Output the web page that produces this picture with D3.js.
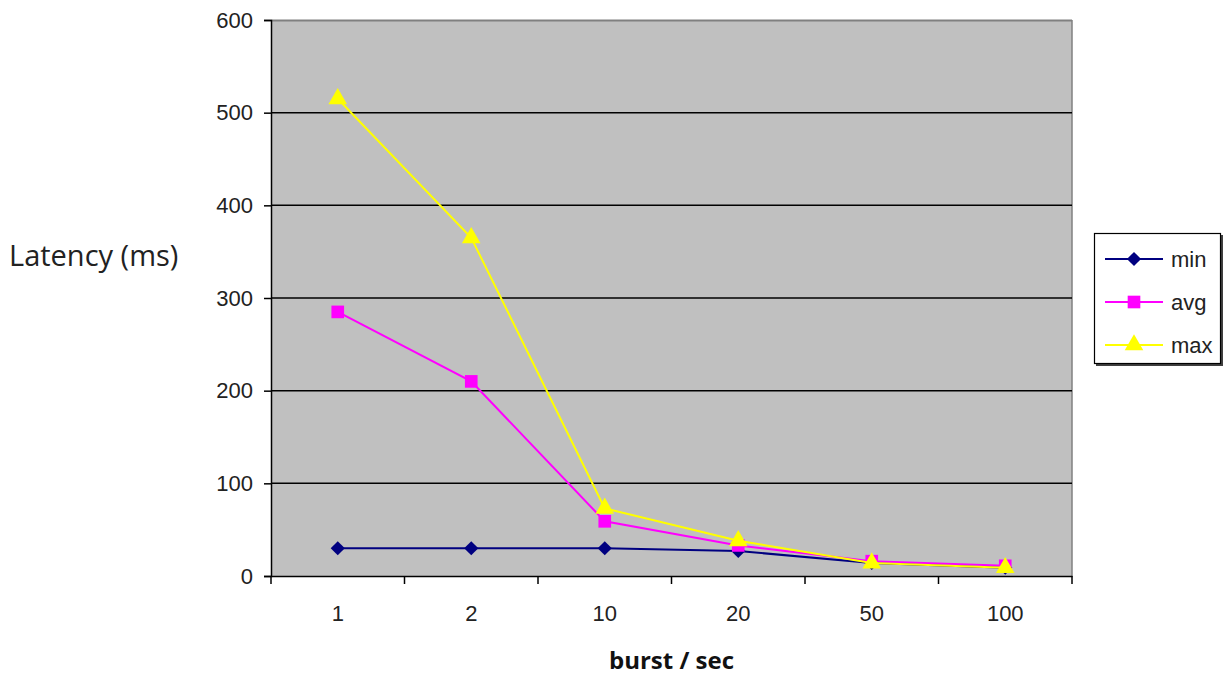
<!DOCTYPE html>
<html>
<head>
<meta charset="utf-8">
<script src="https://cdn.jsdelivr.net/npm/d3@7"></script>
<style>
  body { margin: 0; background: #fff; }
  svg { display: block; }
</style>
</head>
<body>
<div id="chart"></div>
<script>
// chart data
const categories = ['1', '2', '10', '20', '50', '100'];
const minValues = [30, 30, 30, 27, 14, 9];
const avgValues = [285, 210, 59, 33, 16, 11];
const maxValues = [515, 365, 73, 38, 14, 9];
const seriesNames = ['min', 'avg', 'max'];
const yTicks = [0, 100, 200, 300, 400, 500, 600];

const width = 1225, height = 675;
const plot = { left: 271, right: 1072, top: 20, bottom: 576 };
const FONT = '"Liberation Sans", Arial, sans-serif';

const svg = d3.select('#chart')
  .append('svg')
  .attr('width', width)
  .attr('height', height);

const x = d3.scaleBand()
  .domain(categories)
  .range([plot.left, plot.right]);

const y = d3.scaleLinear()
  .domain([0, 600])
  .range([plot.bottom, plot.top]);

// plot background
svg.append('rect')
  .attr('x', plot.left)
  .attr('y', plot.top)
  .attr('width', plot.right - plot.left)
  .attr('height', plot.bottom - plot.top)
  .attr('fill', '#c0c0c0');

// top and right frame lines (gray)
svg.append('line')
  .attr('x1', plot.left).attr('x2', plot.right)
  .attr('y1', plot.top + 0.5).attr('y2', plot.top + 0.5)
  .attr('stroke', '#808080').attr('stroke-width', 2);
svg.append('line')
  .attr('x1', plot.right).attr('x2', plot.right)
  .attr('y1', plot.top).attr('y2', plot.bottom)
  .attr('stroke', '#808080').attr('stroke-width', 1.5);

// gridlines
svg.append('g')
  .selectAll('line')
  .data(yTicks.filter(d => d > 0 && d < 600))
  .join('line')
  .attr('x1', plot.left).attr('x2', plot.right)
  .attr('y1', d => y(d)).attr('y2', d => y(d))
  .attr('stroke', '#000').attr('stroke-width', 1.5);

// y axis
const yAxis = svg.append('g')
  .attr('transform', `translate(${plot.left},0)`)
  .call(d3.axisLeft(y).tickValues(yTicks).tickSize(7).tickPadding(11));
yAxis.select('.domain').attr('stroke-width', 1.5);
yAxis.selectAll('.tick line').attr('stroke-width', 1.5);
yAxis.selectAll('text')
  .attr('font-family', FONT)
  .attr('font-size', 22)
  .attr('fill', '#222');

// x axis: ticks at category boundaries
const xAxis = svg.append('g')
  .attr('transform', `translate(0,${plot.bottom})`)
  .call(d3.axisBottom(x).tickSize(0).tickPadding(29));
xAxis.select('.domain').attr('stroke-width', 1.5);
xAxis.selectAll('text')
  .attr('font-family', FONT)
  .attr('font-size', 22)
  .attr('fill', '#222');
const bounds = categories.map(c => x(c)).concat([x(categories[categories.length - 1]) + x.bandwidth()]);
svg.append('g')
  .selectAll('line')
  .data(bounds)
  .join('line')
  .attr('x1', d => d).attr('x2', d => d)
  .attr('y1', plot.bottom).attr('y2', plot.bottom + 8)
  .attr('stroke', '#000').attr('stroke-width', 1.5);

// series
const cx = c => x(c) + x.bandwidth() / 2;
const series = [
  { name: 'min', values: minValues, color: '#000080', shape: d3.symbolSquare, size: 100, rotate: 45 },
  { name: 'avg', values: avgValues, color: '#ff00ff', shape: d3.symbolSquare, size: 160, rotate: 0 },
  { name: 'max', values: maxValues, color: '#ffff00', shape: d3.symbolTriangle, size: 150, rotate: 0 }
];

const line = d3.line()
  .x((d, i) => cx(categories[i]))
  .y(d => y(d));

series.forEach(s => {
  svg.append('path')
    .datum(s.values)
    .attr('d', line)
    .attr('fill', 'none')
    .attr('stroke', s.color)
    .attr('stroke-width', 2);
  svg.append('g')
    .selectAll('path')
    .data(s.values)
    .join('path')
    .attr('transform', (d, i) => `translate(${cx(categories[i])},${y(d)}) rotate(${s.rotate})`)
    .attr('d', d3.symbol().type(s.shape).size(s.size))
    .attr('fill', s.color);
});

// legend
const legend = svg.append('g').attr('transform', 'translate(1094,233)');
legend.append('rect')
  .attr('x', 2).attr('y', 2)
  .attr('width', 127).attr('height', 131)
  .attr('fill', '#404040');
legend.append('rect')
  .attr('x', 0.5).attr('y', 0.5)
  .attr('width', 126).attr('height', 130)
  .attr('fill', '#fff')
  .attr('stroke', '#000')
  .attr('stroke-width', 1.2);
const item = legend.selectAll('g.item')
  .data(series)
  .join('g')
  .attr('class', 'item')
  .attr('transform', (d, i) => `translate(0,${26 + i * 43})`);
item.append('line')
  .attr('x1', 11).attr('x2', 69)
  .attr('stroke', d => d.color)
  .attr('stroke-width', 2);
item.append('path')
  .attr('transform', d => `translate(40,0) rotate(${d.rotate})`)
  .attr('d', d => d3.symbol().type(d.shape).size(d.size)())
  .attr('fill', d => d.color);
item.append('text')
  .attr('x', 77)
  .attr('dy', '0.35em')
  .attr('font-family', FONT)
  .attr('font-size', 22)
  .attr('fill', '#222')
  .text(d => d.name);

// axis titles
svg.append('text')
  .attr('x', 9)
  .attr('y', 266)
  .attr('font-family', '"Open Sans", sans-serif')
  .attr('font-size', 29)
  .attr('fill', '#222')
  .text('Latency (ms)');

svg.append('text')
  .attr('x', (plot.left + plot.right) / 2)
  .attr('y', 669)
  .attr('text-anchor', 'middle')
  .attr('font-family', '"Open Sans", sans-serif')
  .attr('font-weight', 'bold')
  .attr('font-size', 24)
  .attr('fill', '#111')
  .text('burst / sec');
</script>
</body>
</html>
